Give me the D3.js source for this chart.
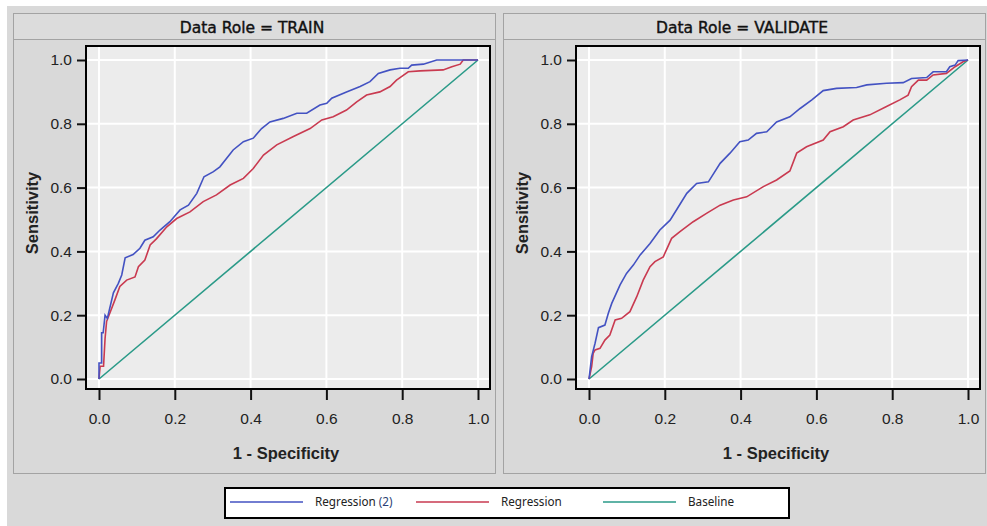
<!DOCTYPE html>
<html>
<head>
<meta charset="utf-8">
<script src="https://cdn.jsdelivr.net/npm/d3@7"></script>
<style>
  body { margin: 0; background: #fff; }
  svg { display: block; }
</style>
</head>
<body>
<div id="chart"></div>
<script>
// data: [1 - specificity, sensitivity]
const roles = ['TRAIN', 'VALIDATE']
const seriesNames = ['Regression (2)', 'Regression', 'Baseline']
const tickValues = [0, 0.2, 0.4, 0.6, 0.8, 1.0]

const trainReg2 = [
  [0, 0], [0, 0.05], [0.007, 0.05], [0.007, 0.145], [0.011, 0.145], [0.016, 0.2], [0.022, 0.19],
  [0.038, 0.27], [0.051, 0.3], [0.06, 0.326], [0.069, 0.38], [0.09, 0.39], [0.108, 0.41],
  [0.121, 0.435], [0.143, 0.446], [0.161, 0.467], [0.187, 0.493], [0.214, 0.53], [0.236, 0.545],
  [0.258, 0.582], [0.277, 0.634], [0.302, 0.65], [0.319, 0.665], [0.354, 0.718], [0.381, 0.744],
  [0.407, 0.755], [0.429, 0.785], [0.451, 0.806], [0.486, 0.817], [0.522, 0.833], [0.548, 0.833],
  [0.583, 0.859], [0.601, 0.864], [0.614, 0.88], [0.653, 0.9], [0.689, 0.917], [0.715, 0.932],
  [0.737, 0.958], [0.768, 0.969], [0.794, 0.974], [0.816, 0.974], [0.825, 0.984], [0.856, 0.987],
  [0.891, 1.0], [1, 1]
]
const trainReg = [
  [0, 0], [0.003, 0.04], [0.012, 0.04], [0.016, 0.127], [0.02, 0.18], [0.042, 0.248],
  [0.055, 0.29], [0.073, 0.31], [0.095, 0.32], [0.104, 0.352], [0.121, 0.373], [0.135, 0.42],
  [0.152, 0.44], [0.179, 0.477], [0.205, 0.503], [0.24, 0.524], [0.275, 0.556], [0.31, 0.577],
  [0.346, 0.608], [0.381, 0.629], [0.407, 0.66], [0.434, 0.702], [0.469, 0.734], [0.513, 0.76],
  [0.557, 0.785], [0.588, 0.812], [0.618, 0.822], [0.653, 0.843], [0.68, 0.869], [0.706, 0.89],
  [0.741, 0.9], [0.768, 0.917], [0.785, 0.937], [0.798, 0.948], [0.816, 0.963], [0.847, 0.966],
  [0.908, 0.969], [0.931, 0.979], [0.953, 0.987], [0.961, 1.0], [1, 1]
]
const validReg2 = [
  [0, 0], [0.007, 0.07], [0.016, 0.112], [0.025, 0.161], [0.042, 0.169], [0.051, 0.206],
  [0.06, 0.237], [0.082, 0.295], [0.099, 0.331], [0.117, 0.357], [0.135, 0.389], [0.161, 0.425],
  [0.187, 0.467], [0.214, 0.498], [0.236, 0.54], [0.258, 0.582], [0.284, 0.613], [0.315, 0.618],
  [0.346, 0.676], [0.372, 0.708], [0.398, 0.744], [0.42, 0.749], [0.442, 0.77], [0.469, 0.775],
  [0.495, 0.806], [0.53, 0.822], [0.557, 0.848], [0.588, 0.875], [0.618, 0.904], [0.653, 0.911],
  [0.706, 0.914], [0.733, 0.922], [0.785, 0.927], [0.829, 0.929], [0.851, 0.942], [0.891, 0.945],
  [0.908, 0.963], [0.943, 0.963], [0.952, 0.979], [0.966, 0.984], [0.974, 0.998], [1, 1]
]
const validReg = [
  [0, 0], [0.007, 0.039], [0.011, 0.08], [0.016, 0.091], [0.029, 0.096], [0.042, 0.122],
  [0.055, 0.138], [0.069, 0.185], [0.086, 0.19], [0.108, 0.211], [0.126, 0.258], [0.143, 0.31],
  [0.161, 0.352], [0.174, 0.368], [0.196, 0.383], [0.218, 0.441], [0.24, 0.462], [0.275, 0.493],
  [0.31, 0.519], [0.346, 0.545], [0.381, 0.561], [0.416, 0.571], [0.46, 0.603], [0.495, 0.624],
  [0.53, 0.652], [0.548, 0.708], [0.574, 0.728], [0.618, 0.749], [0.636, 0.775], [0.671, 0.791],
  [0.697, 0.812], [0.741, 0.828], [0.785, 0.854], [0.82, 0.875], [0.842, 0.89], [0.851, 0.916],
  [0.869, 0.937], [0.891, 0.937], [0.908, 0.953], [0.943, 0.958], [0.966, 0.979], [0.988, 0.995], [1, 1]
]
const baseline = [[0, 0], [1, 1]]

const panelData = [[trainReg2, trainReg, baseline], [validReg2, validReg, baseline]]
const colors = ['#4352c2', '#c93a50', '#2a9a88']

const width = 987, height = 526
const svg = d3.select('#chart').append('svg')
    .attr('width', width)
    .attr('height', height)

svg.append('rect')
    .attr('x', 7).attr('y', 6)
    .attr('width', width - 7).attr('height', height - 6)
    .attr('fill', '#d9d9d9')

roles.forEach((role, p) => {
    const dx = p * 490
    const g = svg.append('g').attr('transform', 'translate(' + dx + ',0)')

    // panel + header
    g.append('rect')
        .attr('x', 13.5).attr('y', 13.5).attr('width', 482).attr('height', 460)
        .attr('fill', '#d9d9d9').attr('stroke', '#a3a3a3')
    g.append('rect')
        .attr('x', 13.5).attr('y', 13.5).attr('width', 482).attr('height', 26)
        .attr('fill', '#dcdcdc').attr('stroke', '#a3a3a3')
    g.append('text')
        .attr('x', 252).attr('y', 33)
        .attr('text-anchor', 'middle')
        .attr('font-family', 'DejaVu Sans, sans-serif')
        .attr('font-size', '15.5px')
        .attr('fill', '#111')
        .attr('stroke', '#111')
        .attr('stroke-width', 0.4)
        .text('Data Role = ' + role)

    const xScale = d3.scaleLinear().domain([0, 1]).range([99, 478])
    const yScale = d3.scaleLinear().domain([0, 1]).range([379, 60])

    g.append('rect')
        .attr('x', 86).attr('y', 46).attr('width', 404).attr('height', 343)
        .attr('fill', '#ececec')

    // grid
    g.selectAll('.vgrid').data(tickValues).enter().append('line')
        .attr('x1', d => xScale(d)).attr('x2', d => xScale(d))
        .attr('y1', 46).attr('y2', 389)
        .attr('stroke', '#fff').attr('stroke-width', 2)
    g.selectAll('.hgrid').data(tickValues).enter().append('line')
        .attr('y1', d => yScale(d)).attr('y2', d => yScale(d))
        .attr('x1', 86).attr('x2', 490)
        .attr('stroke', '#fff').attr('stroke-width', 2)

    const xAxis = d3.axisBottom(xScale)
        .tickValues(tickValues)
        .tickFormat(d3.format('.1f'))
        .tickSize(11)
        .tickPadding(13)
    const yAxis = d3.axisLeft(yScale)
        .tickValues(tickValues)
        .tickFormat(d3.format('.1f'))
        .tickSize(9)
        .tickPadding(5)

    const ax = g.append('g')
        .attr('transform', 'translate(0,389)')
        .call(xAxis)
    const ay = g.append('g')
        .attr('transform', 'translate(86,0)')
        .call(yAxis)
    ;[ax, ay].forEach(a => {
        a.select('.domain').remove()
        a.selectAll('.tick line').attr('stroke', '#111').attr('stroke-width', 2)
        a.selectAll('.tick text')
            .attr('font-family', 'Liberation Sans, Arial, sans-serif')
            .attr('font-size', '15.5px')
            .attr('fill', '#222')
    })

    const linePath = d3.line()
        .x(d => xScale(d[0]))
        .y(d => yScale(d[1]))

    panelData[p].slice().reverse().forEach((s, i) => {
        g.append('path')
            .datum(s)
            .attr('d', linePath)
            .attr('fill', 'none')
            .attr('stroke', colors[2 - i])
            .attr('stroke-width', 1.6)
    })

    g.append('rect')
        .attr('x', 86).attr('y', 46).attr('width', 404).attr('height', 343)
        .attr('fill', 'none').attr('stroke', '#000').attr('stroke-width', 2)

    g.append('text')
        .attr('x', 286).attr('y', 459)
        .attr('text-anchor', 'middle')
        .attr('font-family', 'Liberation Sans, Arial, sans-serif')
        .attr('font-weight', 'bold')
        .attr('font-size', '16.5px')
        .attr('fill', '#222')
        .text('1 - Specificity')
    g.append('text')
        .attr('transform', 'translate(38,213) rotate(-90)')
        .attr('text-anchor', 'middle')
        .attr('font-family', 'Liberation Sans, Arial, sans-serif')
        .attr('font-weight', 'bold')
        .attr('font-size', '16.5px')
        .attr('fill', '#222')
        .text('Sensitivity')
})

// legend
const legend = svg.append('g')
legend.append('rect')
    .attr('x', 225).attr('y', 488).attr('width', 564).attr('height', 30)
    .attr('fill', '#fff').attr('stroke', '#000').attr('stroke-width', 2)
const legendX = [230, 416, 603]
seriesNames.forEach((name, i) => {
    legend.append('line')
        .attr('x1', legendX[i]).attr('x2', legendX[i] + 73)
        .attr('y1', 502).attr('y2', 502)
        .attr('stroke', colors[i]).attr('stroke-width', 1.5)
    const t = legend.append('text')
        .attr('x', legendX[i] + 85).attr('y', 506)
        .attr('font-family', 'Noto Sans, sans-serif')
        .attr('font-size', '11.7px')
        .attr('fill', '#222')
    const m = name.match(/^(.*?)(\s\(\d+\))?$/)
    t.append('tspan').text(m[1])
    if (m[2]) t.append('tspan').attr('fill', '#2b3f75').text(m[2])
})
</script>
</body>
</html>
